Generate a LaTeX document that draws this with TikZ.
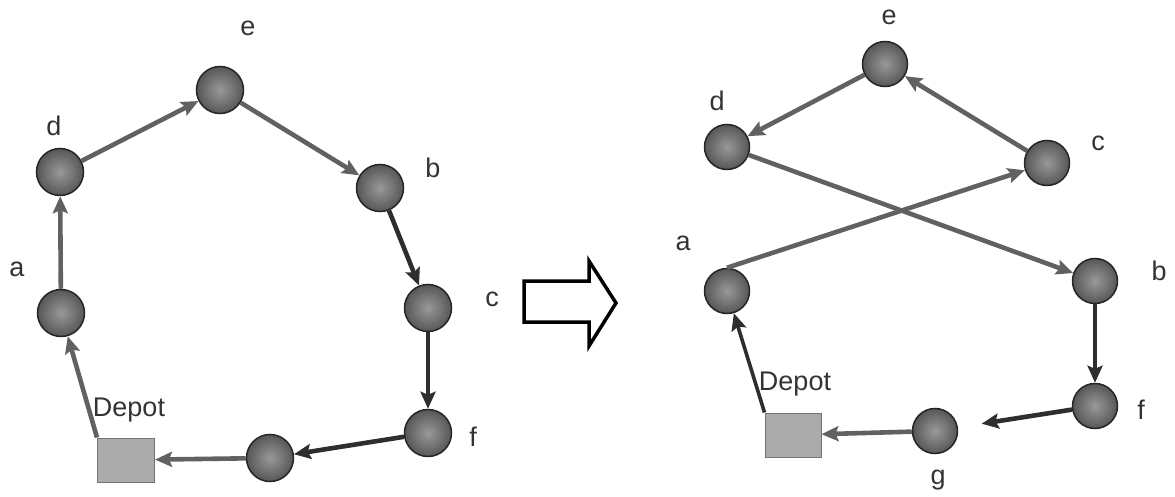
\documentclass[tikz,border=0pt]{standalone}
\usepackage{fontspec}
\setmainfont{Liberation Sans}
\usetikzlibrary{arrows.meta}
\begin{document}
\begin{tikzpicture}[x=1pt,y=-1pt,
  stop/.style={circle,draw=black!85,line width=1.5pt,minimum size=#1,inner sep=0pt,
    inner color=black!40,outer color=black!66},
  stop/.default=47pt,
  depotbox/.style={rectangle,draw=black!55,line width=1pt,fill=black!33,
    minimum width=#1,minimum height=44pt,inner sep=0pt},
  lbl/.style={text=black!80,font=\fontsize{27}{30}\selectfont,inner sep=0pt},
  route/.style={draw=black!62,line width=4.6pt,
    -{Stealth[length=17pt,width=15pt,inset=3pt]}},
  routedark/.style={route,draw=black!82},
]
\useasboundingbox (0,0) rectangle (1175,497);

% ---------- original tour ----------
\node[stop] (le) at (220,90) {};
\node[stop] (ld) at (60,172) {};
\node[stop] (lb) at (380,188) {};
\node[stop] (la) at (61,313) {};
\node[stop] (lc) at (428,308) {};
\node[stop] (lf) at (428,433) {};
\node[stop] (lg) at (270,458) {};
\node[depotbox=57pt] (ldep) at (126,460) {};

\node[lbl] (lle) at (248,28) {e};
\node[lbl] (lld) at (54,126) {d};
\node[lbl] (llb) at (433,168) {b};
\node[lbl] (lla) at (17,269) {a};
\node[lbl] (llc) at (492,299) {c};
\node[lbl] (llf) at (473,437) {f};
\node[lbl] (lldep) at (129,410) {Depot};

\draw[route] (ldep.north west) -- (la);
\draw[route] (la) -- (ld);
\draw[route] (ld) -- (le);
\draw[route] (le) -- (lb);
\draw[routedark] (lb) -- (lc);
\draw[routedark] (lc) -- (lf);
\draw[routedark] (lf) -- (lg);
\draw[route] (lg) -- (ldep);

% ---------- transition arrow ----------
\draw[line width=3.5pt,fill=white,line join=miter]
  (524,281) -- (589,281) -- (589,261) -- (616,303) -- (589,346)
  -- (589,322) -- (524,322) -- cycle;

% ---------- improved tour ----------
\node[stop=45pt] (re) at (885,64) {};
\node[stop=45pt] (rd) at (727,147) {};
\node[stop=45pt] (rc) at (1047,163) {};
\node[stop=45pt] (ra) at (727,291) {};
\node[stop=45pt] (rb) at (1095,281) {};
\node[stop=45pt] (rf) at (1095,406) {};
\node[stop=45pt] (rg) at (935,431) {};
\node[depotbox=56pt] (rdep) at (793,435) {};

\node[lbl] (rle) at (889,17) {e};
\node[lbl] (rld) at (717,101) {d};
\node[lbl] (rlc) at (1098,143) {c};
\node[lbl] (rla) at (683,243) {a};
\node[lbl] (rlb) at (1159,271) {b};
\node[lbl] (rlf) at (1141,410) {f};
\node[lbl] (rlg) at (938,480) {g};
\node[lbl] (rldep) at (795,384) {Depot};

\draw[routedark,line width=3.6pt] (rdep.north west) -- (ra);
\draw[route] (ra.north) -- (rc);
\draw[route] (rc) -- (re);
\draw[route] (re) -- (rd);
\draw[route] (rd) -- (rb);
\draw[routedark,line width=3.6pt] (rb) -- (rf);
\draw[routedark,shorten >=24pt] (rf) -- (rg);
\draw[route] (rg) -- (rdep);
\end{tikzpicture}
\end{document}
